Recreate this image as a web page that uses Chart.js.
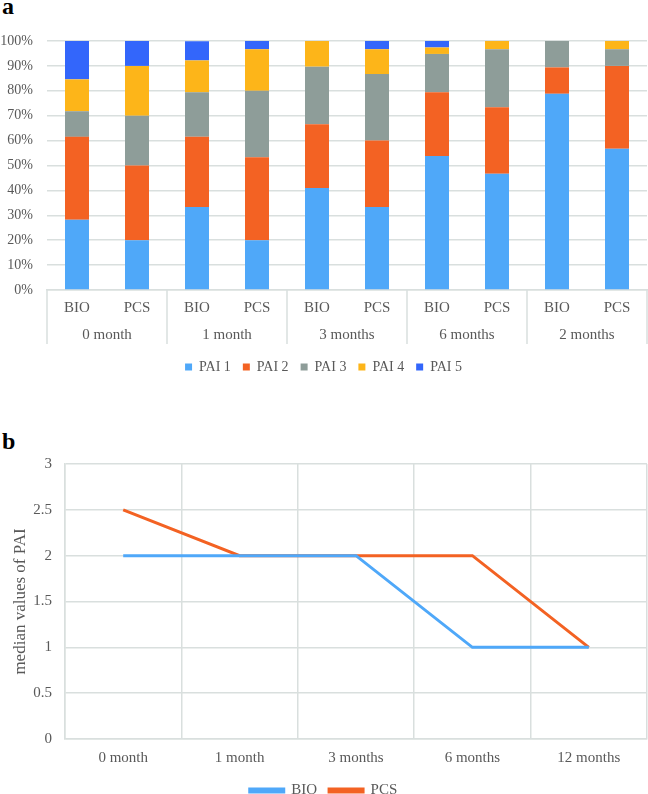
<!DOCTYPE html>
<html>
<head>
<meta charset="utf-8">
<script src="https://cdn.jsdelivr.net/npm/chart.js@4.4.1/dist/chart.umd.min.js"></script>
<style>
  html, body { margin:0; padding:0; background:#fff; width:648px; height:794px; overflow:hidden; }
  .panel { position:absolute; left:0; width:648px; }
  .lab { position:absolute; left:2px; font-family:"Liberation Serif", serif; font-weight:bold; font-size:24px; color:#000; line-height:1; }
</style>
</head>
<body>
<div class="lab" style="top:-6px;">a</div>
<div class="lab" style="top:429px;">b</div>
<div class="panel" style="top:0; height:384px;"><canvas id="ca"></canvas></div>
<div class="panel" style="top:390px; height:418px;"><canvas id="cb"></canvas></div>
<script>
// ---- Panel a data (percent of patients) ----
const groupsA = ["BIO", "PCS", "BIO", "PCS", "BIO", "PCS", "BIO", "PCS", "BIO", "PCS"];
const periodsA = ["0 month", "1 month", "3 months", "6 months", "2 months"];
const pai1 = [28.2, 20.0, 33.3, 20.0, 41.0, 33.3, 53.8, 46.7, 78.8, 56.7];
const pai2 = [33.3, 30.0, 28.2, 33.3, 25.6, 26.7, 25.6, 26.7, 10.6, 33.3];
const pai3 = [10.3, 20.0, 17.9, 26.7, 23.1, 26.7, 15.4, 23.3, 10.6, 6.7];
const pai4 = [12.8, 20.0, 12.8, 16.7, 10.3, 10.0, 2.6, 3.3, 0, 3.3];
const pai5 = [15.4, 10.0, 7.7, 3.3, 0, 3.3, 2.6, 0, 0, 0];
const seriesNamesA = ["PAI 1", "PAI 2", "PAI 3", "PAI 4", "PAI 5"];

// ---- Panel b data (median PAI) ----
const periodsB = ["0 month", "1 month", "3 months", "6 months", "12 months"];
const medianBIO = [2, 2, 2, 1, 1];
const medianPCS = [2.5, 2, 2, 2, 1];

const FONT = "'Liberation Serif', 'Times New Roman', serif";
const TXT = "#595959";
const GRID = "#d9dfde";
const colorsA = ["#4fa8f9", "#f36223", "#8e9d99", "#fdb519", "#3366fb"];

Chart.defaults.font.family = FONT;
Chart.defaults.color = TXT;
Chart.defaults.animation = false;
Chart.defaults.responsive = true;
Chart.defaults.maintainAspectRatio = false;

const separators = {
  id: 'separators',
  afterDraw(chart) {
    const x2 = chart.scales.x2;
    const ctx = chart.ctx;
    const n = x2.ticks.length;
    const step = (x2.getPixelForTick(1) - x2.getPixelForTick(0));
    ctx.save();
    ctx.strokeStyle = GRID;
    ctx.lineWidth = 1.5;
    for (let i = 0; i <= n; i++) {
      const x = Math.round(x2.getPixelForTick(0) - step / 2 + i * step);
      ctx.beginPath();
      ctx.moveTo(x, chart.chartArea.bottom);
      ctx.lineTo(x, x2.top + 30);
      ctx.stroke();
    }
    ctx.restore();
  }
};

const dsA = [pai1, pai2, pai3, pai4, pai5].map((d, i) => ({
  label: seriesNamesA[i],
  data: d,
  backgroundColor: colorsA[i],
  borderWidth: 0,
  barPercentage: 0.4,
  categoryPercentage: 1.0
}));

new Chart(document.getElementById('ca'), {
  type: 'bar',
  data: { labels: groupsA, datasets: dsA },
  plugins: [separators],
  options: {
    layout: { padding: { top: 41, right: 1, left: 0, bottom: 0 } },
    plugins: {
      tooltip: { enabled: false },
      legend: {
        position: 'bottom',
        labels: { boxWidth: 7, boxHeight: 7, padding: 12, font: { size: 14, family: FONT }, color: TXT }
      }
    },
    scales: {
      x: {
        stacked: true,
        grid: { display: false, drawTicks: false },
        border: { display: true, color: GRID, width: 1.5 },
        ticks: { font: { size: 15, family: FONT }, color: TXT, padding: 9, maxRotation: 0 },
        afterFit(s) { s.height = 24; }
      },
      x2: {
        type: 'category',
        labels: periodsA,
        position: 'bottom',
        offset: true,
        grid: { display: false, drawTicks: false },
        border: { display: false },
        ticks: { font: { size: 15, family: FONT }, color: TXT, padding: 12, maxRotation: 0 },
        afterFit(s) { s.height = 34; }
      },
      y: {
        stacked: true,
        min: 0, max: 100,
        ticks: { stepSize: 10, callback: v => v + '%', font: { size: 14, family: FONT }, color: TXT, padding: 14 },
        grid: { color: GRID, lineWidth: 1.5, drawTicks: false },
        border: { display: false },
        afterFit(s) { s.width = 47; }
      }
    }
  }
});

new Chart(document.getElementById('cb'), {
  type: 'line',
  data: {
    labels: periodsB,
    datasets: [
      { label: 'BIO', data: medianBIO, borderColor: '#4fa8f9', backgroundColor: '#4fa8f9', borderWidth: 3, pointRadius: 0, tension: 0 },
      { label: 'PCS', data: medianPCS, borderColor: '#f36223', backgroundColor: '#f36223', borderWidth: 3, pointRadius: 0, tension: 0 }
    ]
  },
  options: {
    layout: { padding: { top: 74, right: 1, left: 0, bottom: 0 } },
    plugins: {
      tooltip: { enabled: false },
      legend: {
        position: 'bottom',
        labels: { boxWidth: 34, boxHeight: 3, padding: 12, font: { size: 15, family: FONT }, color: TXT }
      }
    },
    scales: {
      x: {
        offset: true,
        grid: { color: GRID, lineWidth: 1.5, offset: true, drawTicks: false },
        border: { color: GRID, width: 1.5 },
        ticks: { font: { size: 15, family: FONT }, color: TXT, padding: 10, maxRotation: 0 },
        afterFit(s) { s.height = 32; }
      },
      y: {
        min: 0, max: 3,
        ticks: { stepSize: 0.5, callback: v => String(v), font: { size: 15, family: FONT }, color: TXT, padding: 13 },
        grid: { color: GRID, lineWidth: 1.5, drawTicks: false },
        border: { color: GRID, width: 1.5 },
        title: { display: true, text: 'median values of PAI', font: { size: 17, family: FONT }, color: TXT, padding: { top: 10, bottom: 0 } },
        afterFit(s) { s.width = 65; }
      }
    }
  }
});
</script>
</body>
</html>
